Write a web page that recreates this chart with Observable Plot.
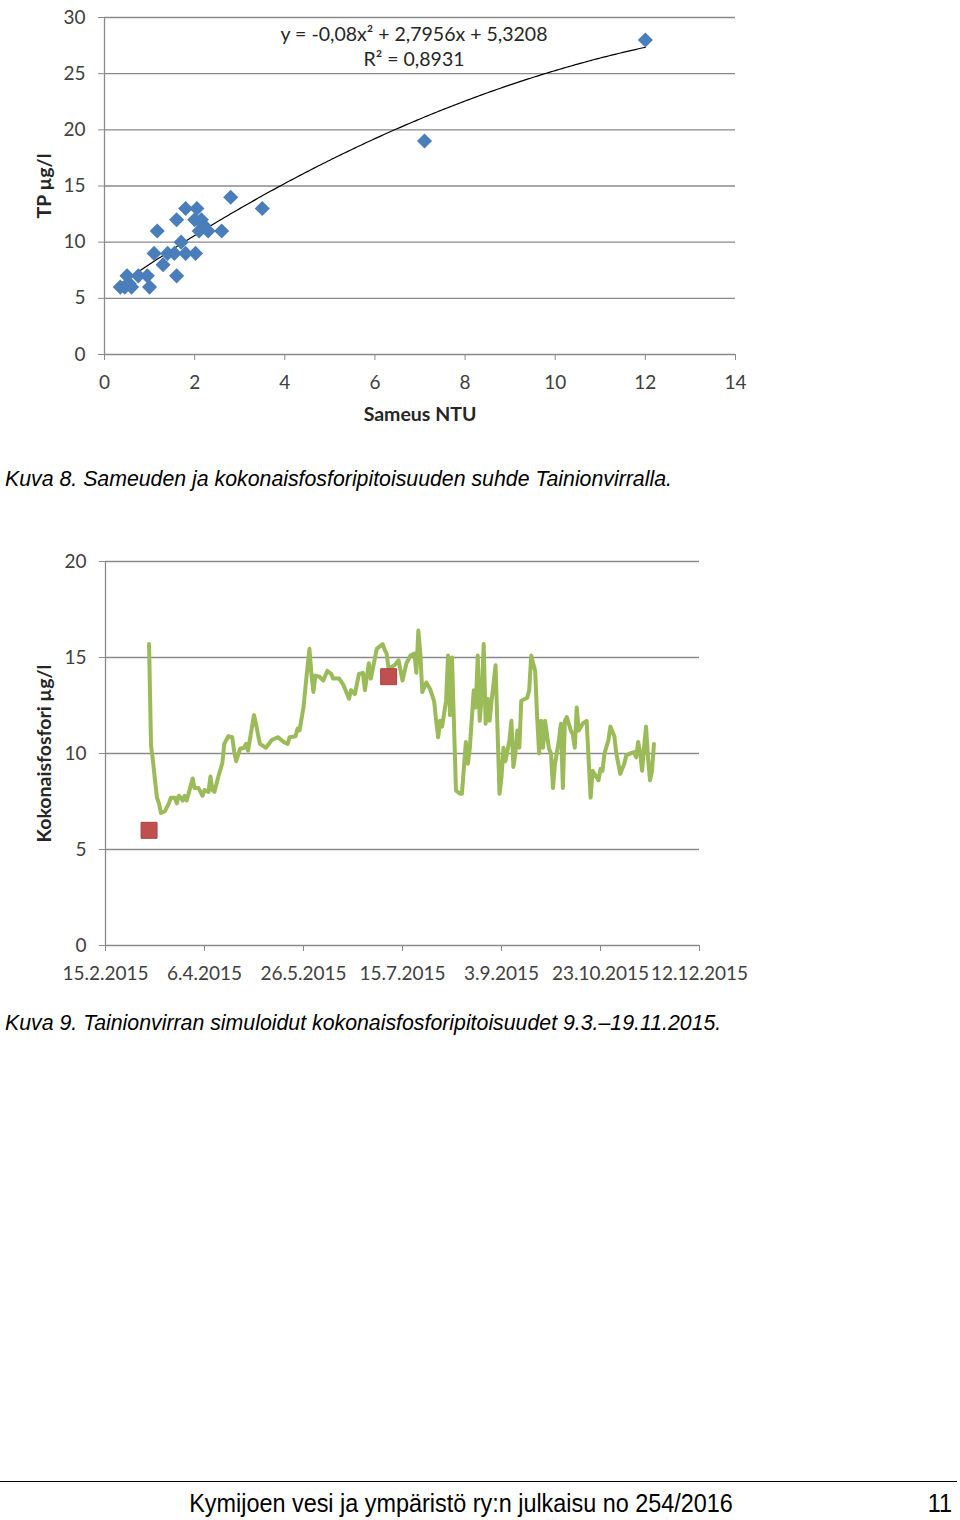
<!DOCTYPE html>
<html>
<head>
<meta charset="utf-8">
<script src="https://cdn.jsdelivr.net/npm/d3@7"></script>
<script src="https://cdn.jsdelivr.net/npm/@observablehq/plot@0.6"></script>
<style>
  html, body { margin: 0; padding: 0; background: #fff; }
  #page { position: relative; width: 960px; height: 1520px; overflow: hidden; background: #fff; }
  .chart { position: absolute; left: 0; }
  .caption { position: absolute; left: 5px; font-family: "Liberation Sans", Arial, sans-serif; font-style: italic; font-size: 21.3px; line-height: 21px; color: #000; white-space: nowrap; }
  #footline { position: absolute; left: 0; width: 957px; top: 1481px; height: 0; border-top: 1.5px solid #000; }
  .foot { position: absolute; top: 1490px; font-family: "Liberation Sans", Arial, sans-serif; font-size: 26px; line-height: 26px; color: #000; white-space: nowrap; }
  #foottext { left: 0; width: 922px; text-align: center; }
  #foottext span { display: inline-block; transform: scaleX(0.9); transform-origin: center; }
  #footnum { right: 8px; }
  #footnum span { display: inline-block; transform: scaleX(0.9); transform-origin: right; }
</style>
</head>
<body>
<div id="page">
  <div id="chart1" class="chart" style="top:0px"></div>
  <div class="caption" style="top:469px">Kuva 8. Sameuden ja kokonaisfosforipitoisuuden suhde Tainionvirralla.</div>
  <div id="chart2" class="chart" style="top:520px"></div>
  <div class="caption" style="top:1013px">Kuva 9. Tainionvirran simuloidut kokonaisfosforipitoisuudet 9.3.–19.11.2015.</div>
  <div id="footline"></div>
  <div id="foottext" class="foot"><span>Kymijoen vesi ja ympäristö ry:n julkaisu no 254/2016</span></div>
  <div id="footnum" class="foot"><span>11</span></div>
</div>
<script>
// ---------- Chart 1 data: turbidity (NTU) vs total phosphorus (µg/l) ----------
const ntu = [0.35, 0.45, 0.5, 0.55, 0.6, 0.75, 0.95, 1.0, 1.1, 1.17, 1.3, 1.4, 1.55, 1.6, 1.6, 1.7, 1.8, 1.8, 2.02, 2.0, 2.05, 2.1, 2.15, 2.2, 2.3, 2.6, 2.8, 3.5, 7.1, 12];
const tp  = [6,    6,    7,   6.3,  6,   7,    7,    6,   9,   11,   8,   9,   9,    12,  7,   10,  13,  9,   9,    12,  13,   11,  12,   11.5, 11,  11,  14,  13,  19,  28];
const trendCoef = [-0.08, 2.7956, 5.3208];   // y = a x² + b x + c
const trendRange = [0.35, 12];
const eqLines = ["y = -0,08x² + 2,7956x + 5,3208", "R² = 0,8931"];
const x1Ticks = [0, 2, 4, 6, 8, 10, 12, 14];
const y1Ticks = [0, 5, 10, 15, 20, 25, 30];

// ---------- Chart 2 data: simulated total phosphorus ----------
const simDates = ["2015-03-09","2015-03-10","2015-03-11","2015-03-12","2015-03-13","2015-03-14","2015-03-15","2015-03-17","2015-03-19","2015-03-20","2015-03-22","2015-03-23","2015-03-24","2015-03-25","2015-03-26","2015-03-27","2015-03-28","2015-03-30","2015-03-31",
"2015-04-01","2015-04-03","2015-04-04","2015-04-05","2015-04-06","2015-04-08","2015-04-09","2015-04-10","2015-04-11","2015-04-13","2015-04-15","2015-04-16","2015-04-18","2015-04-20","2015-04-21","2015-04-22","2015-04-24","2015-04-26","2015-04-27","2015-04-28","2015-04-30",
"2015-05-01","2015-05-02","2015-05-03","2015-05-04","2015-05-07","2015-05-10","2015-05-13","2015-05-16","2015-05-18","2015-05-19","2015-05-22","2015-05-23","2015-05-24","2015-05-26","2015-05-28","2015-05-29","2015-05-30","2015-05-31",
"2015-06-01","2015-06-03","2015-06-05","2015-06-07","2015-06-09","2015-06-10","2015-06-13","2015-06-15","2015-06-17","2015-06-18","2015-06-19","2015-06-21","2015-06-23","2015-06-25","2015-06-26","2015-06-28","2015-06-29",
"2015-07-02","2015-07-05","2015-07-06","2015-07-07","2015-07-08","2015-07-11","2015-07-13","2015-07-15","2015-07-17","2015-07-19","2015-07-21","2015-07-22","2015-07-23","2015-07-24","2015-07-25","2015-07-27","2015-07-29","2015-07-31",
"2015-08-01","2015-08-02","2015-08-03","2015-08-04","2015-08-06","2015-08-07","2015-08-08","2015-08-09","2015-08-11","2015-08-13","2015-08-14","2015-08-16","2015-08-17","2015-08-18","2015-08-20","2015-08-21","2015-08-22","2015-08-23","2015-08-24","2015-08-25","2015-08-26","2015-08-27","2015-08-28","2015-08-29","2015-08-31",
"2015-09-01","2015-09-02","2015-09-03","2015-09-04","2015-09-05","2015-09-07","2015-09-08","2015-09-09","2015-09-10","2015-09-11","2015-09-12","2015-09-13","2015-09-16","2015-09-17","2015-09-18","2015-09-20","2015-09-21","2015-09-22","2015-09-23","2015-09-24","2015-09-25","2015-09-27","2015-09-28","2015-09-29","2015-09-30",
"2015-10-02","2015-10-03","2015-10-04","2015-10-05","2015-10-06","2015-10-08","2015-10-09","2015-10-10","2015-10-11","2015-10-12","2015-10-14","2015-10-16","2015-10-18","2015-10-19","2015-10-20","2015-10-22","2015-10-23","2015-10-24","2015-10-25","2015-10-27","2015-10-28","2015-10-30","2015-10-31",
"2015-11-02","2015-11-04","2015-11-05","2015-11-07","2015-11-09","2015-11-10","2015-11-11","2015-11-12","2015-11-13","2015-11-14","2015-11-15","2015-11-16","2015-11-17","2015-11-18","2015-11-19"];
const simTP = [15.7,10.4,9.6,8.6,7.7,7.4,6.9,7.0,7.4,7.7,7.7,7.4,7.8,7.7,7.55,7.8,7.55,8.3,8.7,
8.2,8.2,8.0,7.8,8.1,8.0,8.8,8.1,8.0,8.8,9.5,10.5,10.9,10.85,10.1,9.6,10.25,10.3,10.5,10.15,11.4,
12.0,11.55,11.0,10.5,10.3,10.7,10.85,10.6,10.5,10.85,10.9,11.3,11.2,12.4,14.5,15.45,14.15,13.2,
14.06,14.0,13.8,14.3,14.15,13.9,13.9,13.6,13.1,12.85,13.3,13.1,14.15,14.2,13.3,14.7,13.9,
15.45,15.7,15.4,15.2,14.4,14.6,14.85,13.8,14.7,15.1,15.2,14.2,16.4,15.2,13.2,13.7,13.35,12.7,
11.7,10.85,11.7,11.4,12.75,15.1,12.0,15.0,8.07,7.9,7.9,10.6,9.46,10.3,13.3,12.4,15.1,11.7,12.9,15.7,11.55,12.85,11.7,12.75,14.6,
11.2,7.9,8.77,10.3,9.6,10.7,11.7,9.3,10.0,11.2,10.3,12.75,12.9,13.3,15.1,14.3,11.9,10.0,11.7,10.3,11.7,10.25,10.0,8.2,9.46,
10.7,11.55,8.2,11.7,11.9,11.2,11.0,10.3,12.4,11.2,11.55,11.7,7.7,9.1,8.94,8.6,9.2,9.1,10.0,10.7,11.4,10.9,10.0,
8.94,9.46,9.9,10.0,10.07,9.8,10.6,10.07,9.1,10.3,11.4,9.8,8.6,9.1,10.5];
const measDates = ["2015-03-09", "2015-07-08"];
const measTP = [6, 14];
const x2Domain = ["2015-02-15", "2015-12-12"];
const x2Ticks = ["2015-02-15", "2015-04-06", "2015-05-26", "2015-07-15", "2015-09-03", "2015-10-23", "2015-12-12"];
const y2Ticks = [0, 5, 10, 15, 20];

// ---------- shared styling ----------
const GRID = "#8a8a8a";
const TICKTXT = "#404040";
const baseStyle = { fontFamily: "Lato, 'Open Sans', sans-serif", fontSize: "19px", color: TICKTXT, background: "white", overflow: "visible" };

// ---------- Chart 1 ----------
const scatter = ntu.map((x, i) => ({ x, y: tp[i] }));
const trend = d3.range(trendRange[0], trendRange[1] + 1e-9, 0.05).map(x => ({ x, y: trendCoef[0] * x * x + trendCoef[1] * x + trendCoef[2] }));

const chart1 = Plot.plot({
  width: 960, height: 440,
  marginLeft: 104, marginRight: 225, marginTop: 17, marginBottom: 86,
  style: baseStyle,
  x: { domain: [0, 14] },
  y: { domain: [0, 30] },
  marks: [
    Plot.ruleY(y1Ticks.filter(d => d > 0), { stroke: GRID, strokeWidth: 1.3 }),
    Plot.ruleY([0], { stroke: GRID, strokeWidth: 1.3 }),
    Plot.ruleX([0], { stroke: GRID, strokeWidth: 1.3 }),
    Plot.axisX({ ticks: x1Ticks, tickSize: 6, tickPadding: 15, stroke: GRID, label: null, tickFormat: d => String(d) }),
    Plot.axisY({ ticks: y1Ticks, tickSize: 6, tickPadding: 13, stroke: GRID, label: null }),
    Plot.line(trend, { x: "x", y: "y", stroke: "#000", strokeWidth: 1.2 }),
    Plot.dot(scatter, { x: "x", y: "y", symbol: "diamond2", r: 6.8, fill: "#4a7ebb", stroke: "none" }),
    Plot.text([eqLines[0]], { frameAnchor: "top", dx: -6, dy: 17, fontSize: 19.5, fill: "#262626", lineAnchor: "middle" }),
    Plot.text([eqLines[1]], { frameAnchor: "top", dx: -6, dy: 42, fontSize: 19.5, fill: "#262626", lineAnchor: "middle" }),
    Plot.text(["Sameus NTU"], { frameAnchor: "bottom", dy: 60, fontSize: 19.5, fontWeight: "bold", fill: "#262626", lineAnchor: "middle" }),
    Plot.text(["TP µg/l"], { frameAnchor: "left", dx: -60, rotate: -90, textAnchor: "middle", fontSize: 19.5, fontWeight: "bold", fill: "#262626", lineAnchor: "middle" })
  ]
});
document.getElementById("chart1").appendChild(chart1);

// ---------- Chart 2 ----------
const parse = s => new Date(s + "T00:00:00Z");
const sim = simDates.map((d, i) => ({ date: parse(d), v: simTP[i] }));
const meas = measDates.map((d, i) => ({ date: parse(d), v: measTP[i] }));
const fmt = d => `${d.getUTCDate()}.${d.getUTCMonth() + 1}.${d.getUTCFullYear()}`;

const chart2 = Plot.plot({
  width: 960, height: 480,
  marginLeft: 105, marginRight: 261, marginTop: 41, marginBottom: 55,
  style: baseStyle,
  x: { type: "utc", domain: x2Domain.map(parse) },
  y: { domain: [0, 20] },
  marks: [
    Plot.ruleY(y2Ticks.filter(d => d > 0), { stroke: GRID, strokeWidth: 1.3 }),
    Plot.ruleY([0], { stroke: GRID, strokeWidth: 1.3 }),
    Plot.ruleX([parse(x2Domain[0])], { stroke: GRID, strokeWidth: 1.3 }),
    Plot.axisX({ ticks: x2Ticks.map(parse), tickSize: 6, tickPadding: 15, stroke: GRID, label: null, tickFormat: fmt }),
    Plot.axisY({ ticks: y2Ticks, tickSize: 6, tickPadding: 13, stroke: GRID, label: null }),
    Plot.line(sim, { x: "date", y: "v", stroke: "#9bbb59", strokeWidth: 4, strokeLinejoin: "round" }),
    Plot.dot(meas, { x: "date", y: "v", symbol: "square", r: 9, fill: "#c0504d", stroke: "#a8403d", strokeWidth: 1 }),
    Plot.text(["Kokonaisfosfori µg/l"], { frameAnchor: "left", dx: -61, rotate: -90, textAnchor: "middle", fontSize: 19.5, fontWeight: "bold", fill: "#262626", lineAnchor: "middle" })
  ]
});
document.getElementById("chart2").appendChild(chart2);
</script>
</body>
</html>
